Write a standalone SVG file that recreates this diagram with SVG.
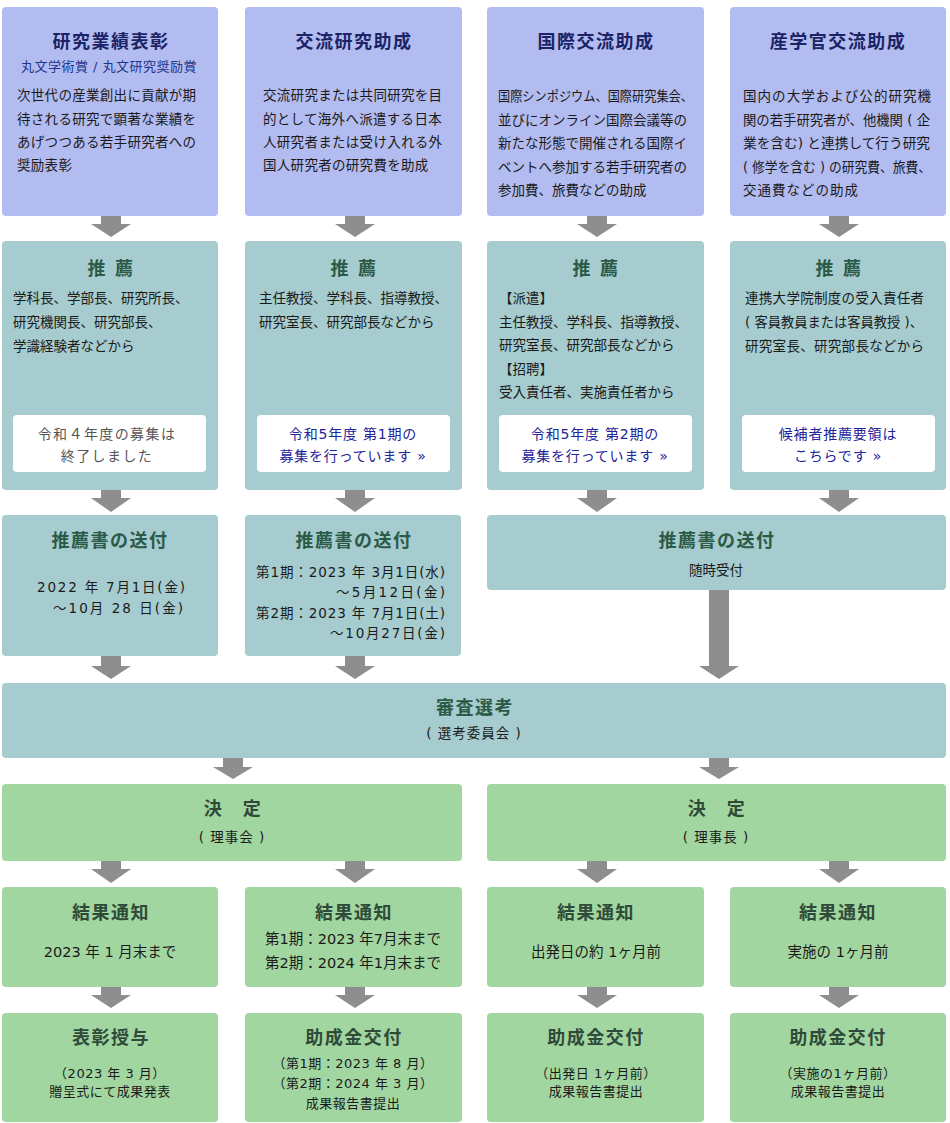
<svg xmlns="http://www.w3.org/2000/svg" width="950" height="1123" viewBox="0 0 950 1123">
<style>
text{font-family:"DejaVu Sans","Noto Sans CJK JP",sans-serif;}
.bl{fill:#b3bcf0;}
.tl{fill:#a6cccf;}
.gr{fill:#a2d6a0;}
.wh{fill:#ffffff;}
.arr{fill:#8e8e8e;}
.t1{font-size:18px;font-weight:bold;fill:#1b2466;letter-spacing:1.5px;text-anchor:middle;}
.t2{font-size:18px;font-weight:bold;fill:#2b5a47;letter-spacing:1.5px;text-anchor:middle;}
.t3{font-size:18px;font-weight:bold;fill:#2f4a38;letter-spacing:1.5px;text-anchor:middle;}
.sub{font-size:13px;fill:#22348a;text-anchor:middle;letter-spacing:0.5px;}
.b{font-size:13.5px;fill:#1a1a1a;}
.c{text-anchor:middle;}
.e{text-anchor:end;}
.lk{font-size:14px;fill:#23239a;text-anchor:middle;letter-spacing:0.8px;}
.lkg{font-size:14px;fill:#555555;text-anchor:middle;letter-spacing:1.4px;}
.s{font-size:13px;fill:#1a1a1a;text-anchor:middle;letter-spacing:0.5px;}
.m{font-size:14.5px;fill:#1a1a1a;text-anchor:middle;}
</style>

<g id="connectors">
<polygon class="arr" points="101,216 121,216 121,224 131,224 111,237 91,224 101,224"/>
<polygon class="arr" points="345,216 365,216 365,224 375,224 355,237 335,224 345,224"/>
<polygon class="arr" points="587,216 607,216 607,224 617,224 597,237 577,224 587,224"/>
<polygon class="arr" points="829,216 849,216 849,224 859,224 839,237 819,224 829,224"/>

<polygon class="arr" points="101,490 121,490 121,498 131,498 111,512 91,498 101,498"/>
<polygon class="arr" points="345,490 365,490 365,498 375,498 355,512 335,498 345,498"/>
<polygon class="arr" points="587,490 607,490 607,498 617,498 597,512 577,498 587,498"/>
<polygon class="arr" points="829,490 849,490 849,498 859,498 839,512 819,498 829,498"/>

<polygon class="arr" points="101,656 121,656 121,666 131,666 111,679 91,666 101,666"/>
<polygon class="arr" points="345,656 365,656 365,666 375,666 355,679 335,666 345,666"/>
<polygon class="arr" points="709,590 729,590 729,666 739,666 719,679 699,666 709,666"/>

<polygon class="arr" points="223,758 243,758 243,767 253,767 233,779 213,767 223,767"/>
<polygon class="arr" points="709,758 729,758 729,767 739,767 719,779 699,767 709,767"/>

<polygon class="arr" points="101,861 121,861 121,869 131,869 111,883 91,869 101,869"/>
<polygon class="arr" points="345,861 365,861 365,869 375,869 355,883 335,869 345,869"/>
<polygon class="arr" points="587,861 607,861 607,869 617,869 597,883 577,869 587,869"/>
<polygon class="arr" points="829,861 849,861 849,869 859,869 839,883 819,869 829,869"/>

<polygon class="arr" points="101,987 121,987 121,995 131,995 111,1008 91,995 101,995"/>
<polygon class="arr" points="345,987 365,987 365,995 375,995 355,1008 335,995 345,995"/>
<polygon class="arr" points="587,987 607,987 607,995 617,995 597,1008 577,995 587,995"/>
<polygon class="arr" points="829,987 849,987 849,995 859,995 839,1008 819,995 829,995"/>
</g>

<!-- Row 1 -->
<g id="award">
<rect class="bl" x="2" y="7" width="216" height="209" rx="4"/>
<text class="t1" x="111" y="48">研究業績表彰</text>
<text class="sub" x="109" y="71">丸文学術賞 / 丸文研究奨励賞</text>
<text class="b" x="17" y="100" letter-spacing="0.3">次世代の産業創出に貢献が期</text>
<text class="b" x="17" y="123.5" letter-spacing="0.3">待される研究で顕著な業績を</text>
<text class="b" x="17" y="147" letter-spacing="0.3">あげつつある若手研究者への</text>
<text class="b" x="17" y="170" letter-spacing="0.3">奨励表彰</text>
</g>
<g id="exchange">
<rect class="bl" x="245" y="7" width="217" height="209" rx="4"/>
<text class="t1" x="354" y="48">交流研究助成</text>
<text class="b" x="263" y="100" letter-spacing="0.3">交流研究または共同研究を目</text>
<text class="b" x="263" y="123.5" letter-spacing="0.3">的として海外へ派遣する日本</text>
<text class="b" x="263" y="147" letter-spacing="0.3">人研究者または受け入れる外</text>
<text class="b" x="263" y="170" letter-spacing="0.3">国人研究者の研究費を助成</text>
</g>
<g id="international">
<rect class="bl" x="487" y="7" width="217" height="209" rx="4"/>
<text class="t1" x="596" y="48">国際交流助成</text>
<text class="b" x="498" y="101" textLength="195" lengthAdjust="spacingAndGlyphs">国際シンポジウム、国際研究集会、</text>
<text class="b" x="498" y="124.5">並びにオンライン国際会議等の</text>
<text class="b" x="498" y="148">新たな形態で開催される国際イ</text>
<text class="b" x="498" y="171.5">ベントへ参加する若手研究者の</text>
<text class="b" x="498" y="195">参加費、旅費などの助成</text>
</g>
<g id="industry">
<rect class="bl" x="730" y="7" width="216" height="209" rx="4"/>
<text class="t1" x="838" y="48">産学官交流助成</text>
<text class="b" x="743" y="101" textLength="188" lengthAdjust="spacing">国内の大学および公的研究機</text>
<text class="b" x="743" y="124.5" textLength="187" lengthAdjust="spacingAndGlyphs">関の若手研究者が、他機関 ( 企</text>
<text class="b" x="743" y="148" textLength="187" lengthAdjust="spacingAndGlyphs">業を含む) と連携して行う研究</text>
<text class="b" x="743" y="171.5" textLength="188" lengthAdjust="spacingAndGlyphs">( 修学を含む ) の研究費、旅費、</text>
<text class="b" x="743" y="195" letter-spacing="1">交通費などの助成</text>
</g>

<!-- Row 2 -->
<g id="rec1">
<rect class="tl" x="2" y="241" width="216" height="249" rx="4"/>
<text class="t2" x="111" y="275">推 薦</text>
<text class="b" x="13" y="303">学科長、学部長、研究所長、</text>
<text class="b" x="13" y="327">研究機関長、研究部長、</text>
<text class="b" x="13" y="350.5">学識経験者などから</text>
<rect class="wh" x="13" y="415" width="193" height="57" rx="4"/>
<text class="lkg" x="107" y="438.5">令和４年度の募集は</text>
<text class="lkg" x="107" y="460.5">終了しました</text>
</g>
<g id="rec2">
<rect class="tl" x="245" y="241" width="217" height="249" rx="4"/>
<text class="t2" x="354" y="275">推 薦</text>
<text class="b" x="259" y="303">主任教授、学科長、指導教授、</text>
<text class="b" x="259" y="327">研究室長、研究部長などから</text>
<rect class="wh" x="257" y="415" width="193" height="57" rx="4"/>
<text class="lk" x="353" y="438.5">令和5年度 第1期の</text>
<text class="lk" x="353" y="460.5">募集を行っています »</text>
</g>
<g id="rec3">
<rect class="tl" x="487" y="241" width="217" height="249" rx="4"/>
<text class="t2" x="596" y="275">推 薦</text>
<text class="b" x="499" y="303">【派遣】</text>
<text class="b" x="499" y="326.5">主任教授、学科長、指導教授、</text>
<text class="b" x="499" y="350">研究室長、研究部長などから</text>
<text class="b" x="499" y="373.5">【招聘】</text>
<text class="b" x="499" y="397">受入責任者、実施責任者から</text>
<rect class="wh" x="499" y="415" width="193" height="57" rx="4"/>
<text class="lk" x="595" y="438.5">令和5年度 第2期の</text>
<text class="lk" x="595" y="460.5">募集を行っています »</text>
</g>
<g id="rec4">
<rect class="tl" x="730" y="241" width="216" height="249" rx="4"/>
<text class="t2" x="839" y="275">推 薦</text>
<text class="b" x="745" y="303" letter-spacing="0.3">連携大学院制度の受入責任者</text>
<text class="b" x="745" y="327" textLength="178" lengthAdjust="spacingAndGlyphs">( 客員教員または客員教授 )、</text>
<text class="b" x="745" y="350.5" letter-spacing="0.3">研究室長、研究部長などから</text>
<rect class="wh" x="742" y="415" width="193" height="57" rx="4"/>
<text class="lk" x="838" y="438.5">候補者推薦要領は</text>
<text class="lk" x="838" y="460.5">こちらです »</text>
</g>

<!-- Row 3 -->
<g id="send1">
<rect class="tl" x="2" y="515" width="216" height="141" rx="4"/>
<text class="t2" x="110" y="547">推薦書の送付</text>
<text class="b" x="37" y="592" textLength="148" lengthAdjust="spacing">2022 年 7月1日(金)</text>
<text class="b" x="53" y="613" textLength="130" lengthAdjust="spacing">～10月 28 日(金)</text>
</g>
<g id="send2">
<rect class="tl" x="245" y="515" width="216" height="141" rx="4"/>
<text class="t2" x="354" y="547">推薦書の送付</text>
<text class="b" x="256" y="577" textLength="189" lengthAdjust="spacing">第1期：2023 年 3月1日(水)</text>
<text class="b" x="336" y="597" textLength="109" lengthAdjust="spacing">～5月12日(金)</text>
<text class="b" x="256" y="618" textLength="189" lengthAdjust="spacing">第2期：2023 年 7月1日(土)</text>
<text class="b" x="330" y="638" textLength="115" lengthAdjust="spacing">～10月27日(金)</text>
</g>
<g id="send34">
<rect class="tl" x="487" y="515" width="459" height="75" rx="4"/>
<text class="t2" x="717" y="547">推薦書の送付</text>
<text class="b c" x="716" y="575">随時受付</text>
</g>

<!-- Row 4 -->
<g id="review">
<rect class="tl" x="2" y="683" width="944" height="75" rx="4"/>
<text class="t2" x="475" y="714">審査選考</text>
<text class="b c" x="474" y="738" letter-spacing="1">( 選考委員会 )</text>
</g>

<!-- Row 5 -->
<g id="decide1">
<rect class="gr" x="2" y="784" width="460" height="77" rx="4"/>
<text class="t3" x="233" y="815">決　定</text>
<text class="b c" x="232" y="842" letter-spacing="1">( 理事会 )</text>
</g>
<g id="decide2">
<rect class="gr" x="487" y="784" width="459" height="77" rx="4"/>
<text class="t3" x="717" y="815">決　定</text>
<text class="b c" x="716" y="842" letter-spacing="1">( 理事長 )</text>
</g>

<!-- Row 6 -->
<g id="notice1">
<rect class="gr" x="2" y="887" width="216" height="100" rx="4"/>
<text class="t3" x="111" y="919">結果通知</text>
<text class="m" x="110" y="957">2023 年 1 月末まで</text>
</g>
<g id="notice2">
<rect class="gr" x="245" y="887" width="217" height="100" rx="4"/>
<text class="t3" x="354" y="919">結果通知</text>
<text class="m" x="353" y="944">第1期：2023 年7月末まで</text>
<text class="m" x="353" y="968">第2期：2024 年1月末まで</text>
</g>
<g id="notice3">
<rect class="gr" x="487" y="887" width="217" height="100" rx="4"/>
<text class="t3" x="596" y="919">結果通知</text>
<text class="m" x="596" y="957">出発日の約 1ヶ月前</text>
</g>
<g id="notice4">
<rect class="gr" x="730" y="887" width="216" height="100" rx="4"/>
<text class="t3" x="838" y="919">結果通知</text>
<text class="m" x="838" y="957">実施の 1ヶ月前</text>
</g>

<!-- Row 7 -->
<g id="grant1">
<rect class="gr" x="2" y="1013" width="216" height="109" rx="4"/>
<text class="t3" x="111" y="1044">表彰授与</text>
<text class="s" x="110" y="1077.5">（2023 年 3 月）</text>
<text class="s" x="110" y="1095.5">贈呈式にて成果発表</text>
</g>
<g id="grant2">
<rect class="gr" x="245" y="1013" width="217" height="109" rx="4"/>
<text class="t3" x="354" y="1044">助成金交付</text>
<text class="s" x="353" y="1067.5">（第1期：2023 年 8 月）</text>
<text class="s" x="353" y="1087.5">（第2期：2024 年 3 月）</text>
<text class="s" x="353" y="1107.5">成果報告書提出</text>
</g>
<g id="grant3">
<rect class="gr" x="487" y="1013" width="217" height="109" rx="4"/>
<text class="t3" x="596" y="1044">助成金交付</text>
<text class="s" x="596" y="1077.5">（出発日 1ヶ月前）</text>
<text class="s" x="596" y="1095.5">成果報告書提出</text>
</g>
<g id="grant4">
<rect class="gr" x="730" y="1013" width="216" height="109" rx="4"/>
<text class="t3" x="838" y="1044">助成金交付</text>
<text class="s" x="838" y="1077.5">（実施の1ヶ月前）</text>
<text class="s" x="838" y="1095.5">成果報告書提出</text>
</g>
</svg>
